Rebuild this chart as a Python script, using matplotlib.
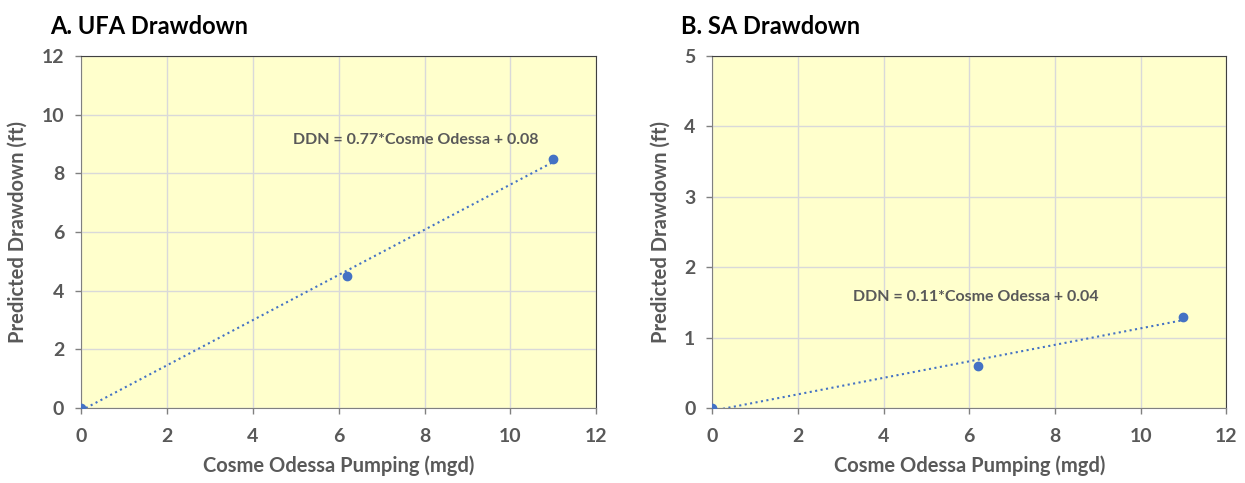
import numpy as np
import matplotlib
matplotlib.use("Agg")
import matplotlib.pyplot as plt

plt.rcParams['font.family'] = ['Lato', 'DejaVu Sans']

# data
pumping = [0, 6.2, 11]
ufa_ddn = [0, 4.5, 8.5]
sa_ddn = [0, 0.6, 1.3]

ufa_label = "DDN = 0.77*Cosme Odessa + 0.08"
sa_label = "DDN = 0.11*Cosme Odessa + 0.04"

blue = '#4472C4'
grey = '#595959'
bg = '#FFFFCC'

fig = plt.figure(figsize=(12.45, 4.83), dpi=100)
ax1 = fig.add_axes([0.065, 0.155, 0.414, 0.729])
ax2 = fig.add_axes([0.572, 0.155, 0.413, 0.729])


def draw(ax, y, ymax, title, label, lx, ly):
    ax.set_facecolor(bg)
    ax.plot(pumping, y, 'o', color=blue, ms=6, zorder=3)
    # linear trendline
    k, b = np.polyfit(pumping, y, 1)
    xs = np.array([pumping[0], pumping[-1]])
    ax.plot(xs, k * xs + b, ':', color=blue, lw=1.5, zorder=2)
    ax.set_xlim(0, 12)
    ax.set_ylim(0, ymax)
    ax.set_xticks(range(0, 13, 2))
    ax.grid(color='#D9D9D9', lw=1)
    ax.set_axisbelow(True)
    for s in ['top', 'right']:
        ax.spines[s].set_color('#404040')
    for s in ['left', 'bottom']:
        ax.spines[s].set_color('#808080')
    ax.tick_params(colors='#808080', labelcolor=grey, labelsize=14, length=4, width=1)
    ax.tick_params(axis='x', pad=10)
    ax.tick_params(axis='y', pad=8)
    for t in ax.get_xticklabels() + ax.get_yticklabels():
        t.set_fontweight('bold')
    ax.set_xlabel("Cosme Odessa Pumping (mgd)", fontsize=14.5, fontweight='bold',
                  color=grey, labelpad=8)
    ax.set_ylabel("Predicted Drawdown (ft)", fontsize=14.5, fontweight='bold',
                  color=grey, labelpad=10)
    ax.text(lx, ly, label, fontsize=11.5, fontweight='bold', color=grey, ha='center', va='center')
    ax.set_title(title, fontsize=17, fontweight='bold', loc='left', x=-0.06, pad=16)


draw(ax1, ufa_ddn, 12, "A. UFA Drawdown", ufa_label, 7.8, 9.15)
draw(ax2, sa_ddn, 5, "B. SA Drawdown", sa_label, 6.15, 1.58)

fig.savefig("out.png", dpi=100)
